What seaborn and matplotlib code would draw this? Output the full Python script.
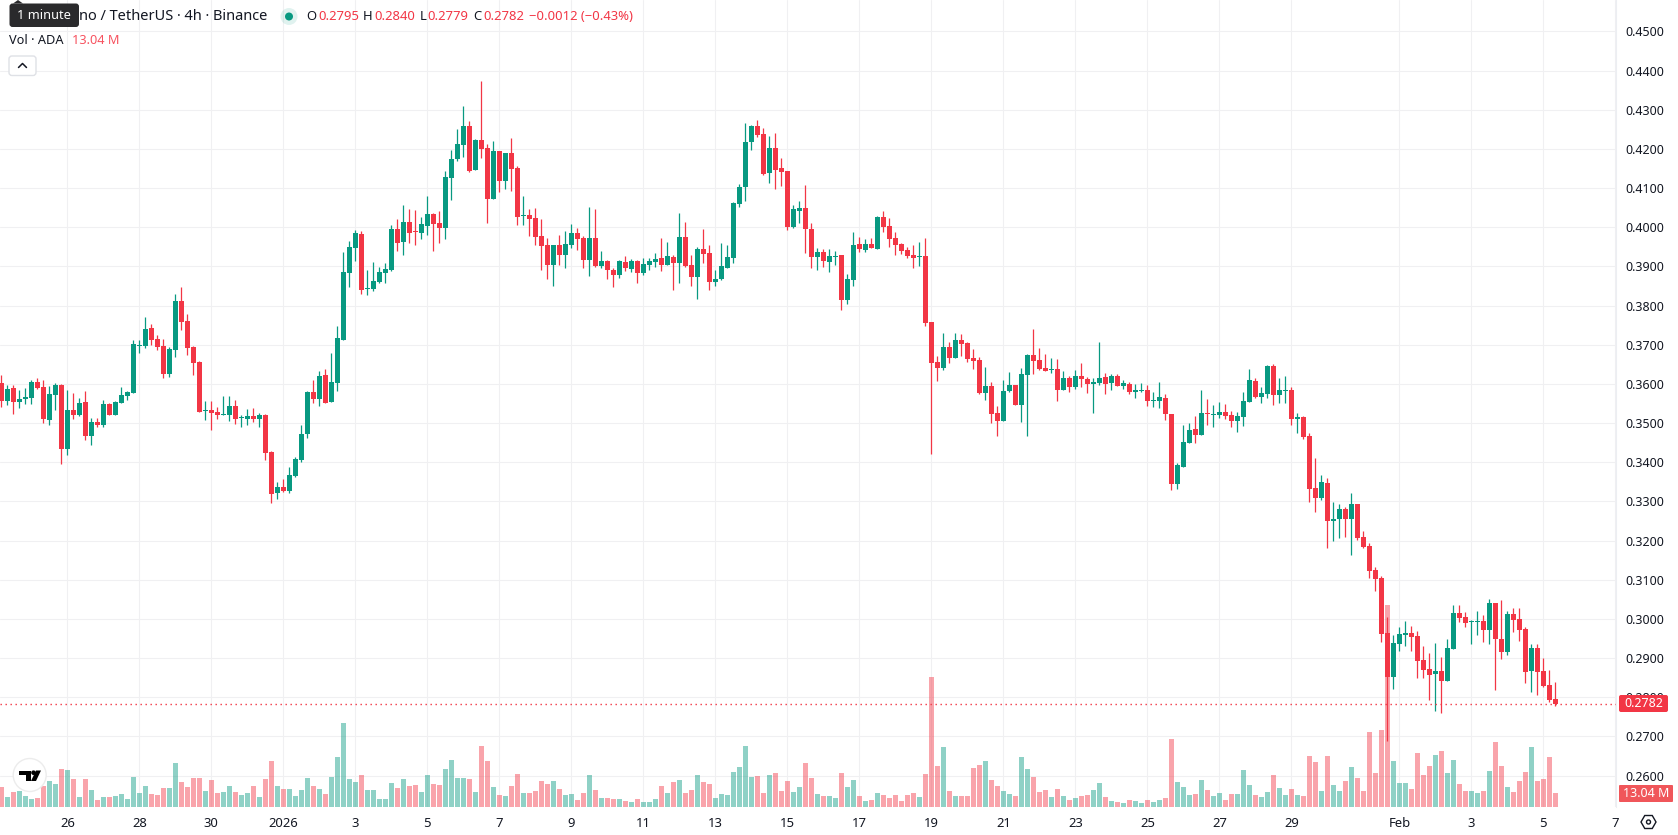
import numpy as np
import pandas as pd
import matplotlib
matplotlib.use("Agg")
import matplotlib.pyplot as plt
from matplotlib.patches import Circle, FancyBboxPatch, Polygon, RegularPolygon
import seaborn as sns

# ADA/USDT 4h candles, prices in units of 0.0001
open_raw = [
    3603,3557,3590,3554,3562,3564,3605,3592,3508,3572,
    3597,3434,3534,3521,3554,3467,3503,3495,3549,3521,
    3551,3569,3577,3697,3697,3743,3715,3697,3625,3687,
    3812,3761,3694,3656,3531,3534,3528,3521,3521,3544,
    3513,3511,3518,3511,3521,3426,3322,3337,3327,3365,
    3405,3471,3580,3562,3624,3555,3603,3711,3884,3947,
    3983,3843,3843,3861,3884,3891,3996,3963,4014,3991,
    3986,4004,4034,4011,3999,4126,4175,4211,4259,4147,
    4223,4203,4073,4195,4119,4190,4152,4029,4032,4024,
    3978,3955,3904,3955,3929,3955,3985,3973,3917,3973,
    3901,3914,3891,3878,3911,3894,3914,3883,3904,3911,
    3922,3904,3924,3909,3975,3904,3873,3945,3934,3860,
    3868,3896,3922,4059,4103,4218,4259,4238,4139,4202,
    4151,4144,4001,4042,4049,3996,3924,3937,3911,3924,
    3929,3814,3865,3957,3942,3957,3944,4026,4003,3972,
    3957,3942,3929,3924,3927,3758,3656,3641,3694,3666,
    3712,3704,3666,3661,3577,3595,3526,3505,3582,3597,
    3546,3623,3674,3661,3641,3635,3638,3584,3615,3592,
    3620,3612,3600,3602,3618,3602,3620,3595,3600,3579,
    3582,3584,3556,3556,3564,3523,3344,3388,3449,3485,
    3469,3526,3520,3520,3528,3520,3505,3515,3554,3607,
    3566,3574,3646,3572,3582,3584,3510,3515,3467,3334,
    3309,3347,3250,3255,3280,3255,3293,3209,3186,3124,
    3104,2964,2851,2935,2958,2964,2956,2895,2872,2859,
    2867,2841,2923,3015,3004,2992,2992,2994,2971,3040,
    2948,2915,3012,2999,2974,2867,2925,2867,2831,2795,
]
high_raw = [
    3623,3597,3597,3585,3590,3610,3615,3610,3595,3603,
    3600,3585,3577,3564,3582,3513,3513,3559,3551,3557,
    3592,3582,3712,3712,3771,3753,3725,3715,3694,3830,
    3848,3779,3697,3659,3557,3557,3541,3569,3569,3559,
    3521,3536,3539,3526,3523,3429,3350,3357,3388,3414,
    3496,3583,3609,3634,3639,3678,3747,3937,3966,3993,
    3991,3891,3912,3899,3909,4006,4022,4057,4047,4045,
    4027,4080,4037,4042,4144,4198,4251,4310,4272,4226,
    4374,4213,4221,4195,4190,4228,4157,4080,4047,4050,
    4022,3973,3955,3981,3991,4008,3998,3978,4052,4047,
    3940,3917,3896,3917,3927,3919,3917,3922,3922,3934,
    3973,3962,3929,4036,4014,3929,3950,3996,3955,3891,
    3960,3955,4065,4111,4266,4261,4274,4254,4233,4241,
    4177,4144,4057,4067,4108,4011,3947,3945,3945,3940,
    3929,3881,3988,3975,3970,3972,4029,4041,4024,3988,
    3960,3949,3955,3962,3972,3758,3671,3730,3707,3730,
    3727,3707,3689,3669,3643,3605,3544,3610,3630,3597,
    3641,3676,3740,3692,3676,3666,3664,3633,3620,3635,
    3653,3618,3615,3707,3628,3625,3625,3610,3605,3600,
    3602,3597,3579,3605,3574,3523,3398,3495,3500,3518,
    3584,3561,3546,3554,3549,3531,3528,3579,3638,3615,
    3592,3648,3651,3615,3620,3592,3526,3518,3475,3411,
    3367,3360,3298,3293,3286,3321,3293,3224,3193,3132,
    3109,3004,2958,2979,2994,2981,2969,2930,2912,2938,
    2902,2948,3035,3035,3017,2997,3020,3009,3050,3040,
    3048,3020,3027,3027,2979,2935,2935,2900,2869,2840,
]
low_raw = [
    3541,3546,3523,3539,3549,3549,3587,3500,3495,3534,
    3396,3419,3511,3518,3457,3444,3490,3490,3521,3521,
    3551,3559,3577,3679,3692,3700,3687,3615,3618,3669,
    3738,3674,3623,3528,3508,3483,3511,3521,3505,3498,
    3490,3495,3503,3490,3406,3296,3306,3324,3322,3362,
    3400,3462,3552,3544,3552,3555,3583,3711,3848,3914,
    3830,3828,3838,3858,3858,3889,3940,3930,3960,3955,
    3971,3981,3940,3960,3971,4070,4170,4180,4142,4147,
    4177,4011,4073,4091,4098,4093,4006,4006,3978,3955,
    3891,3868,3851,3904,3896,3947,3942,3896,3876,3899,
    3896,3868,3848,3871,3888,3886,3858,3878,3891,3899,
    3888,3904,3840,3858,3899,3850,3817,3909,3840,3850,
    3865,3896,3909,4052,4067,4197,4230,4134,4113,4098,
    4105,3993,3998,4011,3934,3896,3891,3899,3886,3904,
    3789,3804,3850,3937,3937,3947,3944,3988,3949,3929,
    3932,3921,3896,3901,3748,3421,3607,3635,3653,3666,
    3671,3656,3638,3574,3559,3500,3467,3505,3579,3546,
    3503,3467,3625,3635,3633,3628,3556,3584,3579,3587,
    3592,3577,3526,3597,3574,3584,3595,3587,3574,3564,
    3579,3543,3541,3538,3508,3329,3332,3388,3449,3449,
    3469,3495,3490,3513,3510,3490,3477,3492,3554,3564,
    3551,3564,3546,3551,3551,3495,3475,3459,3298,3273,
    3303,3181,3199,3206,3209,3163,3201,3181,3104,3071,
    2941,2688,2821,2918,2930,2918,2849,2849,2792,2764,
    2759,2841,2923,2992,2979,2935,2958,2941,2935,2818,
    2897,2907,2966,2943,2836,2813,2805,2826,2787,2779,
]
close_raw = [
    3557,3587,3554,3562,3567,3605,3590,3511,3574,3597,
    3434,3534,3521,3551,3467,3503,3495,3549,3521,3554,
    3572,3580,3702,3700,3740,3712,3694,3625,3689,3812,
    3758,3692,3654,3528,3534,3526,3521,3523,3544,3511,
    3516,3518,3511,3521,3424,3319,3337,3327,3368,3408,
    3471,3580,3562,3621,3552,3606,3716,3885,3950,3985,
    3840,3845,3863,3886,3894,3996,3960,4014,3986,3988,
    4009,4034,4009,3999,4129,4175,4213,4259,4144,4223,
    4200,4073,4195,4119,4190,4149,4027,4032,4022,3976,
    3953,3904,3955,3930,3957,3985,3970,3917,3973,3901,
    3914,3891,3878,3914,3896,3914,3883,3906,3914,3919,
    3904,3927,3909,3975,3901,3873,3945,3932,3860,3868,
    3901,3924,4062,4103,4218,4259,4236,4136,4202,4146,
    4141,4001,4047,4049,3996,3924,3937,3914,3927,3927,
    3814,3868,3955,3944,3957,3947,4026,4001,3970,3955,
    3939,3927,3921,3927,3755,3653,3641,3694,3666,3712,
    3702,3664,3658,3577,3595,3523,3505,3582,3597,3546,
    3625,3674,3658,3638,3633,3638,3584,3615,3592,3620,
    3612,3600,3605,3615,3600,3620,3595,3602,3579,3584,
    3584,3556,3559,3566,3523,3344,3393,3452,3482,3469,
    3526,3523,3523,3528,3518,3505,3518,3556,3610,3566,
    3577,3646,3572,3584,3584,3510,3515,3464,3332,3309,
    3349,3250,3255,3280,3255,3293,3206,3183,3122,3101,
    2961,2851,2938,2961,2964,2953,2892,2869,2856,2867,
    2841,2925,3015,3002,2989,2994,2994,2971,3040,2948,
    2915,3012,2997,2971,2864,2925,2864,2828,2792,2782,
]
# Traded volume per candle, millions of ADA
volume_m = [
    18.6,9.3,14.0,14.9,10.2,7.5,8.4,19.6,24.2,21.4,
    35.4,34.5,26.1,9.3,26.1,15.8,6.5,9.3,9.3,10.2,
    12.1,7.5,27.9,13.0,19.6,12.1,11.2,17.7,17.7,41.0,
    23.3,18.6,27.0,27.0,14.9,25.1,13.0,14.0,19.6,14.0,
    11.2,13.0,19.6,9.3,26.1,42.8,19.6,16.8,16.8,10.2,
    15.8,27.0,19.6,16.8,12.1,27.9,46.6,78.2,26.1,23.3,
    29.8,15.8,15.8,7.5,7.5,22.4,17.7,26.1,19.6,20.5,
    14.0,29.8,21.4,20.5,35.4,43.8,27.0,27.0,26.1,14.0,
    56.8,42.8,18.6,11.2,10.2,19.6,30.7,13.0,13.0,14.9,
    24.2,21.4,24.2,16.8,11.2,12.1,6.5,13.0,29.8,15.8,
    8.4,8.4,7.5,7.5,5.6,4.7,7.5,4.7,4.7,7.5,
    19.6,13.0,23.3,25.1,13.0,15.8,29.8,23.3,21.4,8.4,
    12.1,11.2,32.6,37.3,56.8,27.9,28.9,13.0,29.8,31.7,
    14.9,24.2,14.0,18.6,41.0,27.0,12.1,10.2,10.2,8.4,
    31.7,18.6,25.1,10.2,5.6,6.5,13.0,11.2,8.4,11.2,
    5.6,11.2,13.0,9.3,30.7,121.4,38.2,55.9,14.9,10.2,
    10.2,10.2,36.3,39.1,42.8,25.1,19.6,14.9,12.1,10.2,
    46.6,35.4,27.9,14.0,15.8,9.3,16.8,10.2,6.5,8.4,
    10.2,11.2,15.8,22.4,9.3,5.6,4.7,3.7,6.5,5.6,
    3.7,6.5,4.7,6.5,8.4,63.3,23.3,18.6,11.2,12.1,
    25.1,15.8,10.2,13.0,6.5,12.1,12.1,34.5,20.5,11.2,
    9.3,14.0,29.8,17.7,11.2,16.8,11.2,10.2,47.5,41.9,
    14.9,47.5,20.5,14.9,24.2,37.3,27.0,14.9,69.9,31.7,
    71.7,188.1,42.8,22.4,22.4,16.8,50.3,29.8,38.2,48.4,
    52.2,31.7,43.8,21.4,14.9,14.9,13.0,14.9,33.5,60.5,
    38.2,18.6,14.0,24.2,32.6,55.9,24.2,26.1,46.6,13.04,
]
# Date ticks: candle index and label
date_tick_index = [11,23,35,47,59,71,83,95,107,119,131,143,155,167,179,191,203,215,233,245,257,269]
date_tick_label = ["26","28","30","2026","3","5","7","9","11","13","15","17","19","21","23","25","27","29","Feb","3","5","7"]
price_ticks = [0.26,0.27,0.28,0.29,0.30,0.31,0.32,0.33,0.34,0.35,0.36,0.37,0.38,0.39,0.40,0.41,0.42,0.43,0.44,0.45]
last_price = 0.2782

UP = "#089981"
DOWN = "#f23645"
INK = "#131722"
GRID = "#f0f0f2"
W, H = 1678, 835
PANE_R, PANE_B = 1616, 807
FONT = "Noto Sans"

sns.set_theme(style="white")
plt.rcParams["font.family"] = [FONT, "DejaVu Sans"]

df = pd.DataFrame({
    "idx": np.arange(len(open_raw)),
    "open": np.array(open_raw) / 10000,
    "high": np.array(high_raw) / 10000,
    "low": np.array(low_raw) / 10000,
    "close": np.array(close_raw) / 10000,
    "volume": volume_m,
})
df["direction"] = np.where(df["close"] >= df["open"], "up", "down")
palette = {"up": UP, "down": DOWN}

fig = plt.figure(figsize=(W / 100, H / 100), dpi=100, facecolor="white")
rect = [0, 1 - PANE_B / H, PANE_R / W, PANE_B / H]
ax_vol = fig.add_axes(rect, zorder=1)
ax = fig.add_axes(rect, zorder=2)
ax.patch.set_alpha(0)

# Shared horizontal scale: one candle every 6 px
x_lim = (-0.222, 269.11)
price_lim = (0.2520, 0.4580)
volume_top = 751.7

# Volume pane sits behind the candles
sns.barplot(data=df, x="idx", y="volume", hue="direction", palette=palette, hue_order=["up", "down"],
            native_scale=True, dodge=False, width=5 / 6, gap=0, saturation=1, alpha=0.45,
            linewidth=0, legend=False, ax=ax_vol, errorbar=None)
ax_vol.set_xlim(x_lim)
ax_vol.set_ylim(0, volume_top)
ax_vol.set_xlabel("")
ax_vol.set_ylabel("")
ax_vol.set_yticks([])
ax_vol.set_xticks([])
for s in ax_vol.spines.values():
    s.set_visible(False)

# Grid lives on the bottom axes so volume and candles both cover it
for t in date_tick_index:
    ax_vol.axvline(t, color=GRID, lw=0.75, zorder=0)
for p in price_ticks:
    ax_vol.axhline(volume_top * (p - price_lim[0]) / (price_lim[1] - price_lim[0]), color=GRID, lw=0.75, zorder=0)

# Candles: wicks then bodies
colors = df["direction"].map(palette)
ax.vlines(df["idx"], df["low"], df["high"], colors=colors, lw=0.9, zorder=2)
body_low = df[["open", "close"]].min(axis=1)
body_high = df[["open", "close"]].max(axis=1)
ax.bar(df["idx"], body_high - body_low, bottom=body_low, width=5 / 6, color=colors, linewidth=0, zorder=3)

ax.set_xlim(x_lim)
ax.set_ylim(price_lim)
ax.axhline(last_price, color=DOWN, lw=1, ls=(0, (1, 2.6)), zorder=4)

ax.yaxis.tick_right()
ax.set_yticks(price_ticks)
ax.set_yticklabels([f"{p:.4f}" for p in price_ticks], fontsize=9, color=INK)
ax.set_xticks(date_tick_index)
ax.set_xticklabels(date_tick_label, fontsize=9.4, color=INK)
ax.tick_params(axis="y", length=0, pad=7)
ax.tick_params(axis="x", length=0, pad=7)
ax.get_xticklabels()[date_tick_label.index("2026")].set_fontweight("bold")
for name, s in ax.spines.items():
    s.set_visible(name == "right")
    s.set_color("#eceef2")
    s.set_linewidth(0.75)

# Interface overlay, laid out in pixel coordinates
ui = fig.add_axes([0, 0, 1, 1], zorder=5)
ui.set_xlim(0, W)
ui.set_ylim(H, 0)
ui.axis("off")
ui.patch.set_alpha(0)

def label(x, y, s, color=INK, size=9.4, ha="left", **kw):
    ui.text(x, y, s, color=color, fontsize=size, ha=ha, va="center", **kw)

# Legend row
label(79, 16.5, "no / TetherUS · 4h · Binance", size=10.5)
ui.add_patch(Circle((289, 16.5), 8.5, color=UP, alpha=0.12, lw=0))
ui.add_patch(Circle((289, 16.5), 4, color=UP, lw=0))
for x, s in [(306.5, "O"), (363, "H"), (420, "L"), (473.5, "C")]:
    label(x, 16.5, s)
for x, s in [(318, "0.2795"), (374, "0.2840"), (427, "0.2779"), (483, "0.2782"), (529, "−0.0012 (−0.43%)")]:
    label(x, 16.5, s, color=DOWN)
label(9, 40.5, "Vol · ADA", size=9.2)
label(72, 40.5, "13.04 M", color="#f7525f", size=9.2)

# Collapse button
ui.add_patch(FancyBboxPatch((9, 56), 27, 19.5, boxstyle="round,pad=0,rounding_size=3",
                            fc="white", ec="#dfe1e6", lw=1))
ui.plot([18.5, 22.5, 26.5], [67.5, 63.5, 67.5], color=INK, lw=1.1, solid_capstyle="round")

# Tooltip covering the start of the symbol name
ui.add_patch(FancyBboxPatch((9.5, 3.5), 69.5, 23.5, boxstyle="round,pad=0,rounding_size=3",
                            fc="#2a2a2c", ec="none"))
ui.add_patch(Polygon([[13, 3.5], [18, 0], [23, 3.5]], closed=True, fc="#2a2a2c", ec="none"))
label(44, 15.5, "1 minute", color="white", size=9.2, ha="center")

# Last price and last volume tags
ui.add_patch(FancyBboxPatch((1619, 695), 49, 17, boxstyle="round,pad=0,rounding_size=2",
                            fc=DOWN, ec="none"))
label(1643.5, 703.7, "0.2782", color="white", size=9, ha="center")
ui.add_patch(FancyBboxPatch((1619, 785), 54, 17, boxstyle="round,pad=0,rounding_size=1",
                            fc="#f0565a", ec="none"))
label(1646, 793.7, "13.04 M", color="white", size=9, ha="center")

# Settings glyph
ui.add_patch(RegularPolygon((1648.5, 822), 6, radius=7.5, orientation=np.pi / 6, fc="none", ec=INK, lw=1))
ui.add_patch(Circle((1648.5, 822), 2, fc="none", ec=INK, lw=1))

# Platform badge
ui.add_patch(Circle((29.7, 775), 16.5, fc="white", ec="#ececec", lw=1))
ui.add_patch(Polygon([[19, 770.5], [31, 770.5], [31, 781], [25.5, 781], [25.5, 775], [19, 775]], closed=True, fc="black", ec="none"))
ui.add_patch(Circle((33.5, 772.7), 2.3, fc="black", ec="none"))
ui.add_patch(Polygon([[36, 770.5], [41, 770.5], [36, 781], [31, 781]], closed=True, fc="black", ec="none"))

fig.savefig("out.png", dpi=100)
